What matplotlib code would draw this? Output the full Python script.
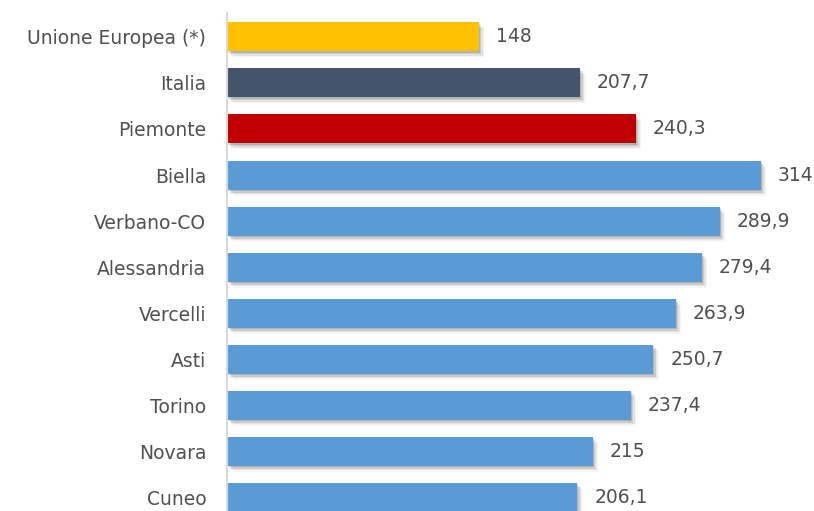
import matplotlib
matplotlib.use("Agg")
import matplotlib.pyplot as plt
from matplotlib.patches import Rectangle

categories = ["Unione Europea (*)", "Italia", "Piemonte", "Biella", "Verbano-CO",
              "Alessandria", "Vercelli", "Asti", "Torino", "Novara", "Cuneo"]
values = [148, 207.7, 240.3, 314, 289.9, 279.4, 263.9, 250.7, 237.4, 215, 206.1]
labels = ["148", "207,7", "240,3", "314", "289,9", "279,4", "263,9", "250,7", "237,4", "215", "206,1"]
colors = ["#FFC000", "#44546A", "#C00000"] + ["#5B9BD5"] * 8

FONT = dict(family="DejaVu Sans", weight="normal", fontsize=13.5, color="#505050")

W, H = 814, 511
fig = plt.figure(figsize=(W / 100, H / 100), dpi=100)
ax = fig.add_axes([227 / W, 0, 1 - 227 / W, (511 - 13) / H])

pos = list(range(len(categories)))
bh = 0.63
ppx = 1.70
xmax = (W - 227) / ppx
ax.set_xlim(0, xmax)
ax.set_ylim(10.30, -0.52)

upx = 46.0
for i, v in zip(pos, values):
    for dx, dy, a in [(1, 1.5, 0.12), (2.5, 3, 0.10), (4, 4.5, 0.07), (5.5, 6, 0.04)]:
        ax.add_patch(Rectangle((dx / ppx, i - bh / 2 + dy / upx), v, bh,
                               facecolor="#000000", alpha=a, edgecolor="none", zorder=1))
ax.barh(pos, values, height=bh, color=colors, zorder=3)

for i, (v, lab) in enumerate(zip(values, labels)):
    ax.annotate(lab, (v, i), xytext=(17, 0), textcoords="offset pixels",
                va="center", ha="left", **FONT)

ax.set_yticks(pos)
ax.set_yticklabels(categories)
for t in ax.get_yticklabels():
    t.set_family(FONT["family"]); t.set_weight(FONT["weight"])
    t.set_fontsize(FONT["fontsize"]); t.set_color(FONT["color"])
ax.tick_params(axis="y", length=0, pad=15)
ax.set_xticks([])
for s in ["top", "right", "bottom"]:
    ax.spines[s].set_visible(False)
ax.spines["left"].set_color("#D9D9D9")
ax.spines["left"].set_linewidth(1.5)
ax.spines["left"].set_zorder(5)

fig.savefig("out.png", dpi=100)
